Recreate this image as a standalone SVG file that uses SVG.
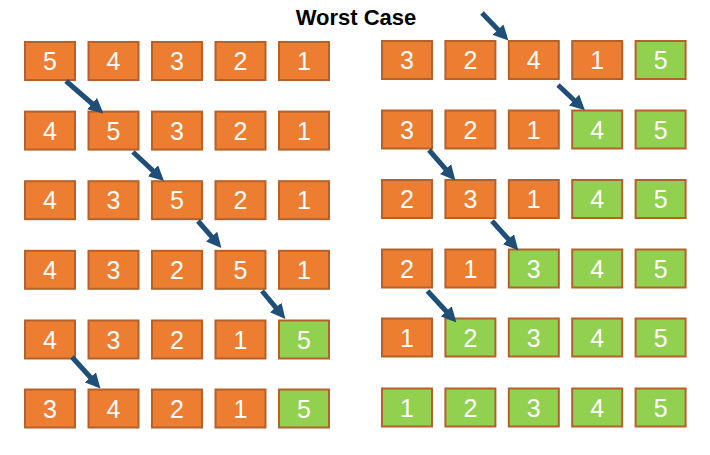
<svg xmlns="http://www.w3.org/2000/svg" width="710" height="455" viewBox="0 0 710 455">
<style>
.b rect{stroke:#B5612A;stroke-width:2}
.o rect{fill:#ED7D31}
.g rect{fill:#92D050}
.b text{fill:#fff;font-family:"Liberation Sans",Arial,sans-serif;font-size:25px;text-anchor:middle}
.t{font-family:"Liberation Sans",Arial,sans-serif;font-weight:bold;font-size:22px;text-anchor:middle;fill:#000}
.a line{stroke:#1F4E79;stroke-width:5;marker-end:url(#ah)}
</style>
<defs>
<marker id="ah" viewBox="0 0 10 10" refX="4" refY="5" markerWidth="3" markerHeight="3" orient="auto"><path d="M0,0 L10,5 L0,10 z" fill="#1F4E79"/></marker>
</defs>
<rect width="710" height="455" fill="#fff"/>
<text class="t" x="356" y="25">Worst Case</text>
<!-- Left -->
<g id="L1-1" class="b o"><rect x="25" y="42" width="50" height="38"/><text x="50" y="70">5</text></g>
<g id="L1-2" class="b o"><rect x="88.5" y="42" width="50" height="38"/><text x="113.5" y="70">4</text></g>
<g id="L1-3" class="b o"><rect x="152" y="42" width="50" height="38"/><text x="177" y="70">3</text></g>
<g id="L1-4" class="b o"><rect x="215.5" y="42" width="50" height="38"/><text x="240.5" y="70">2</text></g>
<g id="L1-5" class="b o"><rect x="279" y="42" width="50" height="38"/><text x="304" y="70">1</text></g>

<g id="L2-1" class="b o"><rect x="25" y="111.6" width="50" height="38"/><text x="50" y="139.6">4</text></g>
<g id="L2-2" class="b o"><rect x="88.5" y="111.6" width="50" height="38"/><text x="113.5" y="139.6">5</text></g>
<g id="L2-3" class="b o"><rect x="152" y="111.6" width="50" height="38"/><text x="177" y="139.6">3</text></g>
<g id="L2-4" class="b o"><rect x="215.5" y="111.6" width="50" height="38"/><text x="240.5" y="139.6">2</text></g>
<g id="L2-5" class="b o"><rect x="279" y="111.6" width="50" height="38"/><text x="304" y="139.6">1</text></g>

<g id="L3-1" class="b o"><rect x="25" y="181.2" width="50" height="38"/><text x="50" y="209.2">4</text></g>
<g id="L3-2" class="b o"><rect x="88.5" y="181.2" width="50" height="38"/><text x="113.5" y="209.2">3</text></g>
<g id="L3-3" class="b o"><rect x="152" y="181.2" width="50" height="38"/><text x="177" y="209.2">5</text></g>
<g id="L3-4" class="b o"><rect x="215.5" y="181.2" width="50" height="38"/><text x="240.5" y="209.2">2</text></g>
<g id="L3-5" class="b o"><rect x="279" y="181.2" width="50" height="38"/><text x="304" y="209.2">1</text></g>

<g id="L4-1" class="b o"><rect x="25" y="250.8" width="50" height="38"/><text x="50" y="278.8">4</text></g>
<g id="L4-2" class="b o"><rect x="88.5" y="250.8" width="50" height="38"/><text x="113.5" y="278.8">3</text></g>
<g id="L4-3" class="b o"><rect x="152" y="250.8" width="50" height="38"/><text x="177" y="278.8">2</text></g>
<g id="L4-4" class="b o"><rect x="215.5" y="250.8" width="50" height="38"/><text x="240.5" y="278.8">5</text></g>
<g id="L4-5" class="b o"><rect x="279" y="250.8" width="50" height="38"/><text x="304" y="278.8">1</text></g>

<g id="L5-1" class="b o"><rect x="25" y="320.5" width="50" height="38"/><text x="50" y="348.5">4</text></g>
<g id="L5-2" class="b o"><rect x="88.5" y="320.5" width="50" height="38"/><text x="113.5" y="348.5">3</text></g>
<g id="L5-3" class="b o"><rect x="152" y="320.5" width="50" height="38"/><text x="177" y="348.5">2</text></g>
<g id="L5-4" class="b o"><rect x="215.5" y="320.5" width="50" height="38"/><text x="240.5" y="348.5">1</text></g>
<g id="L5-5" class="b g"><rect x="279" y="320.5" width="50" height="38"/><text x="304" y="348.5">5</text></g>

<g id="L6-1" class="b o"><rect x="25" y="389.5" width="50" height="38"/><text x="50" y="417.5">3</text></g>
<g id="L6-2" class="b o"><rect x="88.5" y="389.5" width="50" height="38"/><text x="113.5" y="417.5">4</text></g>
<g id="L6-3" class="b o"><rect x="152" y="389.5" width="50" height="38"/><text x="177" y="417.5">2</text></g>
<g id="L6-4" class="b o"><rect x="215.5" y="389.5" width="50" height="38"/><text x="240.5" y="417.5">1</text></g>
<g id="L6-5" class="b g"><rect x="279" y="389.5" width="50" height="38"/><text x="304" y="417.5">5</text></g>
<!-- Right -->
<g id="R1-1" class="b o"><rect x="382" y="41" width="50" height="38"/><text x="407" y="69">3</text></g>
<g id="R1-2" class="b o"><rect x="445.4" y="41" width="50" height="38"/><text x="470.4" y="69">2</text></g>
<g id="R1-3" class="b o"><rect x="508.8" y="41" width="50" height="38"/><text x="533.8" y="69">4</text></g>
<g id="R1-4" class="b o"><rect x="572.2" y="41" width="50" height="38"/><text x="597.2" y="69">1</text></g>
<g id="R1-5" class="b g"><rect x="635.6" y="41" width="50" height="38"/><text x="660.6" y="69">5</text></g>

<g id="R2-1" class="b o"><rect x="382" y="110.5" width="50" height="38"/><text x="407" y="138.5">3</text></g>
<g id="R2-2" class="b o"><rect x="445.4" y="110.5" width="50" height="38"/><text x="470.4" y="138.5">2</text></g>
<g id="R2-3" class="b o"><rect x="508.8" y="110.5" width="50" height="38"/><text x="533.8" y="138.5">1</text></g>
<g id="R2-4" class="b g"><rect x="572.2" y="110.5" width="50" height="38"/><text x="597.2" y="138.5">4</text></g>
<g id="R2-5" class="b g"><rect x="635.6" y="110.5" width="50" height="38"/><text x="660.6" y="138.5">5</text></g>

<g id="R3-1" class="b o"><rect x="382" y="180" width="50" height="38"/><text x="407" y="208">2</text></g>
<g id="R3-2" class="b o"><rect x="445.4" y="180" width="50" height="38"/><text x="470.4" y="208">3</text></g>
<g id="R3-3" class="b o"><rect x="508.8" y="180" width="50" height="38"/><text x="533.8" y="208">1</text></g>
<g id="R3-4" class="b g"><rect x="572.2" y="180" width="50" height="38"/><text x="597.2" y="208">4</text></g>
<g id="R3-5" class="b g"><rect x="635.6" y="180" width="50" height="38"/><text x="660.6" y="208">5</text></g>

<g id="R4-1" class="b o"><rect x="382" y="249.5" width="50" height="38"/><text x="407" y="277.5">2</text></g>
<g id="R4-2" class="b o"><rect x="445.4" y="249.5" width="50" height="38"/><text x="470.4" y="277.5">1</text></g>
<g id="R4-3" class="b g"><rect x="508.8" y="249.5" width="50" height="38"/><text x="533.8" y="277.5">3</text></g>
<g id="R4-4" class="b g"><rect x="572.2" y="249.5" width="50" height="38"/><text x="597.2" y="277.5">4</text></g>
<g id="R4-5" class="b g"><rect x="635.6" y="249.5" width="50" height="38"/><text x="660.6" y="277.5">5</text></g>

<g id="R5-1" class="b o"><rect x="382" y="318.5" width="50" height="38"/><text x="407" y="346.5">1</text></g>
<g id="R5-2" class="b g"><rect x="445.4" y="318.5" width="50" height="38"/><text x="470.4" y="346.5">2</text></g>
<g id="R5-3" class="b g"><rect x="508.8" y="318.5" width="50" height="38"/><text x="533.8" y="346.5">3</text></g>
<g id="R5-4" class="b g"><rect x="572.2" y="318.5" width="50" height="38"/><text x="597.2" y="346.5">4</text></g>
<g id="R5-5" class="b g"><rect x="635.6" y="318.5" width="50" height="38"/><text x="660.6" y="346.5">5</text></g>

<g id="R6-1" class="b g"><rect x="382" y="388.5" width="50" height="38"/><text x="407" y="416.5">1</text></g>
<g id="R6-2" class="b g"><rect x="445.4" y="388.5" width="50" height="38"/><text x="470.4" y="416.5">2</text></g>
<g id="R6-3" class="b g"><rect x="508.8" y="388.5" width="50" height="38"/><text x="533.8" y="416.5">3</text></g>
<g id="R6-4" class="b g"><rect x="572.2" y="388.5" width="50" height="38"/><text x="597.2" y="416.5">4</text></g>
<g id="R6-5" class="b g"><rect x="635.6" y="388.5" width="50" height="38"/><text x="660.6" y="416.5">5</text></g>

<g id="arrows" class="a">
<line x1="66" y1="81" x2="96.6" y2="107.5"/>
<line x1="133" y1="152" x2="157.4" y2="174.8"/>
<line x1="198" y1="221" x2="215.5" y2="241.2"/>
<line x1="262" y1="291" x2="279.6" y2="312.1"/>
<line x1="72" y1="357" x2="94.4" y2="381.8"/>
<line x1="482" y1="13" x2="502.2" y2="34"/>
<line x1="558" y1="85" x2="578.4" y2="104.2"/>
<line x1="429" y1="150" x2="449.5" y2="173.6"/>
<line x1="492" y1="221" x2="512.4" y2="243.7"/>
<line x1="427.5" y1="291" x2="450.3" y2="315.8"/>
</g>
</svg>
